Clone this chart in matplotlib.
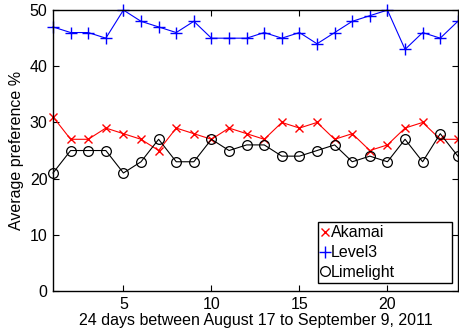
import numpy as np
import matplotlib
matplotlib.use('Agg')
import matplotlib.pyplot as plt

plt.rcParams['font.family'] = ['Liberation Sans', 'DejaVu Sans']

days = np.arange(1, 25)
akamai = [31, 27, 27, 29, 28, 27, 25, 29, 28, 27, 29, 28, 27, 30, 29, 30, 27, 28, 25, 26, 29, 30, 27, 27]
level3 = [47, 46, 46, 45, 50, 48, 47, 46, 48, 45, 45, 45, 46, 45, 46, 44, 46, 48, 49, 50, 43, 46, 45, 48]
limelight = [21, 25, 25, 25, 21, 23, 27, 23, 23, 27, 25, 26, 26, 24, 24, 25, 26, 23, 24, 23, 27, 23, 28, 24]

fig = plt.figure(figsize=(4.59, 3.36), dpi=100)
ax = fig.add_axes([0.1155, 0.134, 0.882, 0.836])

ax.plot(days, akamai, color='red', marker='x', markersize=5.5, lw=0.8, label='Akamai', clip_on=False)
ax.plot(days, level3, color='blue', marker='+', markersize=9, lw=0.8, label='Level3', clip_on=False)
ax.plot(days, limelight, color='black', marker='o', markersize=7, mfc='none', mew=0.9, lw=0.8,
        label='Limelight', clip_on=False)

ax.set_xlim(1, 24)
ax.set_ylim(0, 50)
ax.set_xticks([5, 10, 15, 20])
ax.set_yticks([0, 10, 20, 30, 40, 50])
ax.tick_params(direction='in', top=True, right=True, labelsize=11.5, length=4, pad=4)
ax.set_xlabel('24 days between August 17 to September 9, 2011', fontsize=11.5, labelpad=1)
ax.set_ylabel('Average preference %', fontsize=11.5, labelpad=4)
for s in ax.spines.values():
    s.set_linewidth(1.0)

leg = ax.legend(loc='lower left', bbox_to_anchor=(0.654, 0.028, 0.331, 0.231), mode='expand',
                handlelength=0.5, handletextpad=0.1, fontsize=11.5,
                fancybox=False, edgecolor='black', framealpha=1, borderaxespad=0,
                labelspacing=0.3, borderpad=0.2)
leg.get_frame().set_linewidth(1.0)
for h in leg.legend_handles:
    h.set_linestyle('none')

plt.savefig('out.png', dpi=100)
